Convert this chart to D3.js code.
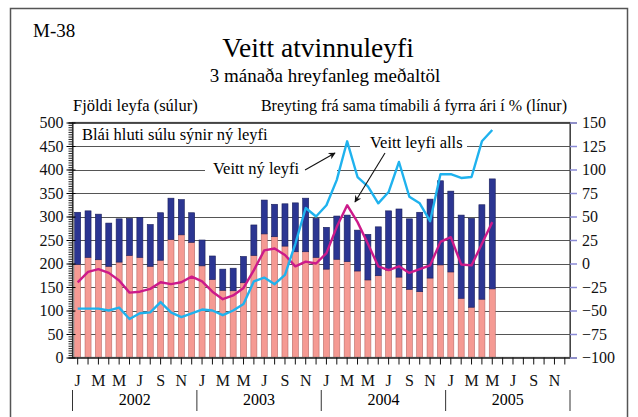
<!DOCTYPE html>
<html><head><meta charset="utf-8">
<script src="https://cdn.jsdelivr.net/npm/d3@7"></script>
<style>
html,body{margin:0;padding:0;background:#fff;}
svg{display:block;font-family:"Liberation Serif","Times New Roman",serif;}
</style></head>
<body>
<svg id="c" width="638" height="417"></svg>
<script>
// ---- data ----
const years = ["2002","2003","2004","2005"];
const monthLetters = ["J","F","M","A","M","J","J","A","S","O","N","D"];
// Pink part of bar: renewed permits (3-month moving average)
const renewedPermits = [198,213,208,194,203,217,213,194,207,251,261,245,
  195,166,143,142,159,217,263,257,237,225,225,213,
  188,209,204,184,165,174,186,171,145,140,169,197,
  182,126,107,124,146];
// Blue part of bar: new permits
const newPermits = [111,99,97,92,92,79,85,89,101,88,75,63,
  55,50,45,48,56,65,72,69,90,104,114,83,
  89,92,99,87,97,104,126,145,150,169,168,179,
  172,177,189,201,234];
// % change from same period previous year: new permits (cyan)
const newPct = [-48,-48,-48,-50,-47,-59,-53,-52,-41,-52,-57,-53,
  -49,-50,-55,-50,-43,-19,-15,-22,-12,21,59,50,
  62,89,130,92,82,64,76,108,71,64,45,95,
  95,91,92,130,142];
// % change: all permits (magenta)
const totalPct = [-20,-9,-6,-10,-18,-31,-30,-27,-20,-22,-20,-14,
  -19,-30,-38,-34,-26,-7,14,16,9,-3,2,0,
  11,39,62,44,21,-3,-7,-3,-10,-6,-2,23,
  28,-1,-2,21,44];
const leftTicks = [0,50,100,150,200,250,300,350,400,450,500];
const rightTicks = [-100,-75,-50,-25,0,25,50,75,100,125,150];

// ---- build ----
const svg = d3.select("#c");
const nMonths = years.length*12;
const L = 72.5, R = 570, T = 122.5, B = 357.5;
const x = d3.scaleBand().domain(d3.range(nMonths)).range([L,R]).paddingInner(0.42).paddingOuter(0.21);
const yL = d3.scaleLinear().domain([0,500]).range([B,T]);
const yR = d3.scaleLinear().domain([-100,150]).range([B,T]);
const cx = i => x(i) + x.bandwidth()/2;

// outer frame
svg.append("rect").attr("x",10.5).attr("y",8.5).attr("width",617).attr("height",440)
  .attr("fill","none").attr("stroke","#555").attr("stroke-width",1.5);

// titles
svg.append("text").attr("x",33).attr("y",37).attr("font-size",19).text("M-38");
svg.append("text").attr("x",318).attr("y",57).attr("text-anchor","middle").attr("font-size",27.5).text("Veitt atvinnuleyfi");
svg.append("text").attr("x",325).attr("y",82).attr("text-anchor","middle").attr("font-size",19).text("3 mánaða hreyfanleg meðaltöl");
svg.append("text").attr("x",73).attr("y",111).attr("font-size",16.5).text("Fjöldi leyfa (súlur)");
svg.append("text").attr("x",567).attr("y",111).attr("text-anchor","end").attr("font-size",16).text("Breyting frá sama tímabili á fyrra ári í % (línur)");

// gridlines
svg.append("g").selectAll("line").data(leftTicks).join("line")
  .attr("x1",L).attr("x2",R)
  .attr("y1",d=>Math.round(yL(d))+0.5).attr("y2",d=>Math.round(yL(d))+0.5)
  .attr("stroke","#555").attr("stroke-width",1);

// stacked bars
const rows = renewedPermits.map((r,i)=>({i, renewed:r, nyr:newPermits[i]}));
const stack = d3.stack().keys(["renewed","nyr"])(rows);
const colors = {renewed:"#f59a93", nyr:"#2b3592"};
svg.append("g").selectAll("g").data(stack).join("g")
  .attr("fill",d=>colors[d.key]).attr("stroke",d=>d.key==="nyr"?"#1a1f5a":"#b86a66").attr("stroke-width",0.6)
  .selectAll("rect").data(d=>d).join("rect")
  .attr("x",d=>x(d.data.i)).attr("width",x.bandwidth())
  .attr("y",d=>yL(d[1])).attr("height",d=>yL(d[0])-yL(d[1]));

// annotation text boxes (white background hides gridlines)
function label(txt, x0, y0, bx0, bx1){
  svg.append("rect").attr("x",bx0).attr("y",y0-13).attr("width",bx1-bx0).attr("height",17).attr("fill","#fff");
  svg.append("text").attr("x",x0).attr("y",y0).attr("font-size",16.5).text(txt);
}
label("Blái hluti súlu sýnir ný leyfi", 82, 140, 78, 287);
label("Veitt ný leyfi", 213, 174, 205, 337);
label("Veitt leyfi alls", 370, 148, 360, 467);

// lines
const line = d3.line().x((d,i)=>cx(i));
svg.append("path").datum(totalPct).attr("fill","none").attr("stroke","#cc1a8a").attr("stroke-width",2.4)
  .attr("stroke-linejoin","round").attr("d",line.y(d=>yR(d)));
svg.append("path").datum(newPct).attr("fill","none").attr("stroke","#1fb2ee").attr("stroke-width",2.4)
  .attr("stroke-linejoin","round").attr("d",line.y(d=>yR(d)));

// arrows
svg.append("defs").append("marker").attr("id","ah").attr("viewBox","0 0 10 10")
  .attr("refX",9).attr("refY",5).attr("markerWidth",9).attr("markerHeight",7)
  .attr("orient","auto").attr("markerUnits","userSpaceOnUse")
  .append("path").attr("d","M0,0 L10,5 L0,10 L3,5 Z").attr("fill","#111");
svg.append("line").attr("x1",305).attr("y1",170).attr("x2",335).attr("y2",153)
  .attr("stroke","#111").attr("stroke-width",1.1).attr("marker-end","url(#ah)");
svg.append("line").attr("x1",385).attr("y1",153).attr("x2",355).attr("y2",202)
  .attr("stroke","#111").attr("stroke-width",1.1).attr("marker-end","url(#ah)");

// plot frame
svg.append("rect").attr("x",L).attr("y",T).attr("width",R-L).attr("height",B-T)
  .attr("fill","none").attr("stroke","#444").attr("stroke-width",1.2);

// left axis
const gl = svg.append("g").attr("transform",`translate(${L},0)`);
gl.call(d3.axisLeft(yL).tickValues(d3.range(0,501,5)).tickSize(4).tickFormat(""));
gl.call(g=>g.selectAll(".tick line").attr("stroke","#222"));
const gl2 = svg.append("g").attr("transform",`translate(${L+3},0)`)
  .call(d3.axisLeft(yL).tickValues(leftTicks).tickSize(9).tickPadding(2));
gl2.select(".domain").remove();
gl2.selectAll("text").attr("font-size",16).attr("font-family","Liberation Serif").attr("fill","#111").attr("dx","-1");
gl.select(".domain").attr("stroke","#222");

// right axis
const gr = svg.append("g").attr("transform",`translate(${R},0)`)
  .call(d3.axisRight(yR).tickValues(rightTicks).tickSize(7).tickPadding(5));
gr.select(".domain").attr("stroke","#444");
gr.selectAll(".tick line").attr("stroke","#8a8ad6").attr("stroke-width",1.5);
gr.selectAll("text").attr("font-size",16).attr("font-family","Liberation Serif").attr("fill","#111");

// bottom axis
const gb = svg.append("g").attr("transform",`translate(0,${B})`)
  .call(d3.axisBottom(x).tickSize(7).tickPadding(10).tickFormat(i=> i%2===0 ? monthLetters[i%12] : ""));
gb.select(".domain").remove();
gb.selectAll(".tick line").attr("stroke","#111");
gb.selectAll("text").attr("font-size",16).attr("font-family","Liberation Serif").attr("fill","#111");

// years
const step = x.step(), x0 = x.range()[0];
svg.append("g").selectAll("line").data(d3.range(years.length+1)).join("line")
  .attr("x1",k=>x0+k*12*step).attr("x2",k=>x0+k*12*step).attr("y1",390).attr("y2",411)
  .attr("stroke","#333").attr("stroke-width",1);
svg.append("g").selectAll("text").data(years).join("text")
  .attr("x",(d,k)=>x0+(k*12+6)*step).attr("y",405).attr("text-anchor","middle")
  .attr("font-size",16).text(d=>d);
</script>
</body></html>
